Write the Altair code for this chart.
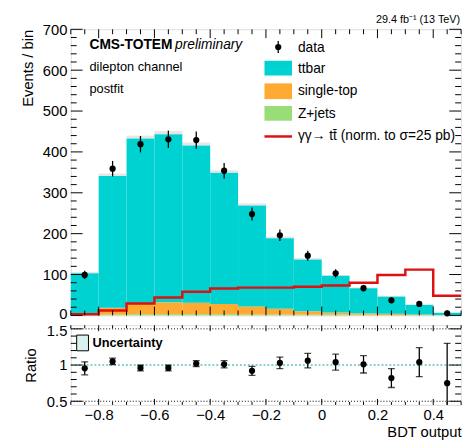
import altair as alt
import pandas as pd
import numpy as np

# ---------------- data ----------------
bin_lo = [-0.9, -0.8, -0.7, -0.6, -0.5, -0.4, -0.3, -0.2, -0.1, 0.0, 0.1, 0.2, 0.3, 0.4]
bin_hi = [-0.8, -0.7, -0.6, -0.5, -0.4, -0.3, -0.2, -0.1, 0.0, 0.1, 0.2, 0.3, 0.4, 0.5]
bin_center = [-0.85, -0.75, -0.65, -0.55, -0.45, -0.35, -0.25, -0.15, -0.05, 0.05, 0.15, 0.25, 0.35, 0.45]

zjets = [1, 2, 3, 3, 3, 3, 2, 2, 2, 2, 1.5, 1, 0.5, 0.3]
single_top = [3, 17, 27, 29, 28, 25, 20, 14, 8, 5, 3.5, 3, 1.5, 0.7]
ttbar = [99, 322, 403, 411, 385, 321, 247, 173, 127, 90, 61.5, 42, 23.7, 5.5]
mc_unc = [3, 6, 7, 8, 7, 6, 5, 4, 3, 2, 2, 1.5, 1, 0.5]

data = [99, 359, 419, 431, 429, 354, 248, 196, 146, 103, 66.6, 37, 28, 5]
data_err = [10, 19, 20, 21, 21, 19, 16, 14, 12, 10, 8, 6, 5.3, 2.2]

signal = [3, 12, 29, 44, 58, 66, 68, 68, 70, 73, 80, 99, 112, 48]

ratio = [0.955, 1.05, 0.96, 0.96, 1.02, 1.01, 0.92, 1.03, 1.06, 1.04, 1.01, 0.82, 1.04, 0.75]
ratio_err = [0.09, 0.045, 0.04, 0.04, 0.04, 0.05, 0.063, 0.08, 0.1, 0.11, 0.12, 0.13, 0.2, 0.55]

# ---------------- style ----------------
W = 397
H1 = 291
H2 = 81
FONT = "Liberation Sans"
C_TT = "#00D2D2"
C_ST = "#FFAA33"
C_Z = "#99DD77"
C_SIG = "#DD1111"

xscale = alt.Scale(domain=[-0.9, 0.5], nice=False, zero=False)
yscale1 = alt.Scale(domain=[0, 700], nice=False, zero=False)
yscale2 = alt.Scale(domain=[0.45, 1.55], nice=False, zero=False)

yaxis1 = alt.Axis(values=list(range(0, 701, 100)), labelFontSize=15, ticks=False, domain=False,
                  grid=False, labelPadding=4, title="Events / bin", titleFontSize=15,
                  titleFontWeight="normal", titleAnchor="end", titlePadding=5.5,
                  labelOffset={"condition": {"test": "datum.value == 0", "value": -1.5}, "value": 0},
                  minExtent=30, maxExtent=30, labelColor="black", titleColor="black")
yaxis2 = alt.Axis(values=[0.5, 1, 1.5], format="~g", labelFontSize=15, ticks=False, domain=False,
                  grid=False, labelPadding=4, title="Ratio", titleFontSize=15,
                  titleFontWeight="normal", titleAnchor="middle", titlePadding=2.5,
                  labelOffset={"condition": {"test": "datum.value == 1.5", "value": 1.5}, "value": 0},
                  minExtent=30, maxExtent=30, labelColor="black", titleColor="black")
xaxis2 = alt.Axis(values=[-0.8, -0.6, -0.4, -0.2, 0, 0.2, 0.4], format="~g", labelFontSize=15,
                  ticks=False, domain=False, grid=False, labelPadding=3, title="BDT output",
                  titleFontSize=15, titleFontWeight="normal", titleAnchor="end", titlePadding=2,
                  labelColor="black", titleColor="black")


def X1(f, **kw):
    return alt.X(f, type="quantitative", scale=xscale, axis=None, **kw)


def Y1(f, **kw):
    return alt.Y(f, type="quantitative", scale=yscale1, axis=yaxis1, **kw)


def X2(f, **kw):
    return alt.X(f, type="quantitative", scale=xscale, axis=xaxis2, **kw)


def Y2(f, **kw):
    return alt.Y(f, type="quantitative", scale=yscale2, axis=yaxis2, **kw)


# ---------------- top panel tables ----------------
rows = []
for i in range(len(bin_lo)):
    z0, z1 = 0, zjets[i]
    s1 = z1 + single_top[i]
    t1 = s1 + ttbar[i]
    rows.append(dict(lo=bin_lo[i], hi=bin_hi[i], y0=z0, y1=z1, proc="Z+jets"))
    rows.append(dict(lo=bin_lo[i], hi=bin_hi[i], y0=z1, y1=s1, proc="single-top"))
    rows.append(dict(lo=bin_lo[i], hi=bin_hi[i], y0=s1, y1=t1, proc="ttbar"))
stack_df = pd.DataFrame(rows)

tot = [zjets[i] + single_top[i] + ttbar[i] for i in range(len(bin_lo))]
unc_df = pd.DataFrame(dict(lo=bin_lo, hi=bin_hi, y0=tot,
                           y1=[tot[i] + mc_unc[i] for i in range(len(tot))]))

sig_df = pd.DataFrame(dict(x=bin_lo + [bin_hi[-1]], y=signal + [signal[-1]]))

pts_df = pd.DataFrame(dict(x=bin_center, y=data,
                           lo=[data[i] - data_err[i] for i in range(len(data))],
                           hi=[data[i] + data_err[i] for i in range(len(data))]))

bars = alt.Chart(stack_df).mark_rect(strokeWidth=0).encode(
    x=X1("lo"), x2="hi", y=Y1("y0"), y2="y1",
    color=alt.Color("proc:N", scale=alt.Scale(domain=["ttbar", "single-top", "Z+jets"],
                                               range=[C_TT, C_ST, C_Z]), legend=None))
unc = alt.Chart(unc_df).mark_rect(fill="#c8c8c8", opacity=0.45).encode(
    x=X1("lo"), x2="hi", y=Y1("y0"), y2="y1")
sig = alt.Chart(sig_df).mark_line(interpolate="step-after", color=C_SIG, strokeWidth=2.5).encode(
    x=X1("x"), y=Y1("y"))
errs = alt.Chart(pts_df).mark_rule(color="black", strokeWidth=1.3).encode(
    x=X1("x"), y=Y1("lo"), y2="hi")
pts = alt.Chart(pts_df).mark_circle(color="black", size=40, opacity=1).encode(
    x=X1("x"), y=Y1("y"))

# inner ticks (top)
yt = np.arange(0, 701, 20)
ytick_df = pd.DataFrame(dict(v=yt, major=(yt % 100 == 0)))
xt = np.round(np.arange(-0.9, 0.5001, 0.05), 2)
xmaj = np.isclose(np.round(xt * 5), xt * 5)
xtick_df = pd.DataFrame(dict(v=xt, major=xmaj))

one = pd.DataFrame(dict(a=[0]))


def ticks_y(df, Y, Lmaj, Lmin):
    out = []
    for side in ("left", "right"):
        for maj, L in ((True, Lmaj), (False, Lmin)):
            d = df[df["major"] == maj]
            x1 = 0 if side == "left" else W - L
            out.append(alt.Chart(d).mark_rule(color="black", strokeWidth=1).encode(
                x=alt.value(x1), x2=alt.value(x1 + L), y=Y("v")))
    return out


def ticks_x(df, X, H, Lmaj, Lmin):
    out = []
    for maj, L in ((True, Lmaj), (False, Lmin)):
        d = df[df["major"] == maj]
        out.append(alt.Chart(d).mark_rule(color="black", strokeWidth=1).encode(
            x=X("v"), y=alt.value(H - L), y2=alt.value(H)))
        out.append(alt.Chart(d).mark_rule(color="black", strokeWidth=1).encode(
            x=X("v"), y=alt.value(0), y2=alt.value(L)))
    return out


top_ticks = ticks_y(ytick_df, Y1, 12, 6) + ticks_x(xtick_df, X1, H1, 9, 5)


def txt(s, x, y, size=14, weight="normal", style="normal", align="left", color="black"):
    return alt.Chart(one).mark_text(text=s, align=align, baseline="middle", fontSize=size,
                                    fontWeight=weight, fontStyle=style, font=FONT,
                                    color=color).encode(x=alt.value(x), y=alt.value(y))


def box(x1, x2, y1, y2, fill, stroke=None):
    kw = dict(fill=fill)
    if stroke:
        kw.update(stroke=stroke, strokeWidth=1)
    return alt.Chart(one).mark_rect(**kw).encode(
        x=alt.value(x1), x2=alt.value(x2), y=alt.value(y1), y2=alt.value(y2))


top_text = [
    txt("CMS-TOTEM", 19, 16, size=14, weight="bold"),
    txt("preliminary", 106, 16, size=14, style="italic"),
    txt("dilepton channel", 19, 38, size=13),
    txt("postfit", 19, 61, size=13),
    txt("29.4 fb\u207b\u00b9 (13 TeV)", 396, -9, size=11, align="right"),
    # legend
    alt.Chart(one).mark_rule(color="black", strokeWidth=1.3).encode(
        x=alt.value(211), y=alt.value(12), y2=alt.value(24)),
    alt.Chart(one).mark_circle(color="black", size=40, opacity=1).encode(
        x=alt.value(211), y=alt.value(18)),
    txt("data", 231, 19),
    box(197, 225, 32, 47, C_TT),
    txt("ttbar", 231, 40),
    box(197, 225, 55, 71, C_ST),
    txt("single-top", 231, 63),
    box(197, 225, 78, 93, C_Z),
    txt("Z+jets", 231, 86),
    alt.Chart(one).mark_rule(color=C_SIG, strokeWidth=2.5).encode(
        x=alt.value(197), x2=alt.value(225), y=alt.value(109)),
    txt("\u03b3\u03b3\u2192 tt\u0304 (norm. to \u03c3=25 pb)", 231, 109),
]

top = alt.layer(bars, unc, sig, errs, pts, *top_ticks, *top_text).properties(width=W, height=H1)

# ---------------- ratio panel ----------------
r_df = pd.DataFrame(dict(x=bin_center, y=ratio,
                         lo=[ratio[i] - ratio_err[i] for i in range(len(ratio))],
                         hi=[ratio[i] + ratio_err[i] for i in range(len(ratio))]))
lines_df = pd.DataFrame(dict(v=[0.5, 1.5]))
one_line = pd.DataFrame(dict(v=[1.0]))

r_lines = alt.Chart(lines_df).mark_rule(color="black", strokeWidth=1, strokeDash=[1, 2]).encode(
    y=Y2("v"), x=alt.value(0), x2=alt.value(W))
r_one = alt.Chart(one_line).mark_rule(color="#5cc4bb", strokeWidth=1.5, strokeDash=[2, 2]).encode(
    y=Y2("v"), x=alt.value(0), x2=alt.value(W))
r_err = alt.Chart(r_df).mark_rule(color="black", strokeWidth=1.3, clip=True).encode(
    x=X2("x"), y=Y2("lo"), y2="hi")
r_cap_lo = alt.Chart(r_df).mark_tick(color="black", thickness=1.3, size=7, orient="horizontal",
                                     clip=True).encode(x=X2("x"), y=Y2("lo"))
r_cap_hi = alt.Chart(r_df).mark_tick(color="black", thickness=1.3, size=7, orient="horizontal",
                                     clip=True).encode(x=X2("x"), y=Y2("hi"))
r_pts = alt.Chart(r_df).mark_circle(color="black", size=40, opacity=1).encode(
    x=X2("x"), y=Y2("y"))

yt2 = np.round(np.arange(0.5, 1.5001, 0.1), 2)
ytick2_df = pd.DataFrame(dict(v=yt2, major=np.isclose(np.round(yt2 * 2), yt2 * 2)))
r_ticks = ticks_y(ytick2_df, Y2, 12, 6) + ticks_x(xtick_df, X2, H2, 6, 3)

r_text = [
    box(6, 18, 10, 26, "#d9f2ef", stroke="black"),
    txt("Uncertainty", 22, 18, size=13, weight="bold"),
]

bottom = alt.layer(r_lines, r_one, r_err, r_cap_lo, r_cap_hi, r_pts, *r_ticks, *r_text).properties(
    width=W, height=H2)

chart = alt.vconcat(top, bottom, spacing=10, bounds="flush").properties(
    padding={"left": 20, "top": 10, "right": 0, "bottom": 0}
).configure_view(stroke="black", strokeWidth=1).configure(font=FONT, background="white")

chart.save("out.html", embed_options={"renderer": "svg", "actions": False})
